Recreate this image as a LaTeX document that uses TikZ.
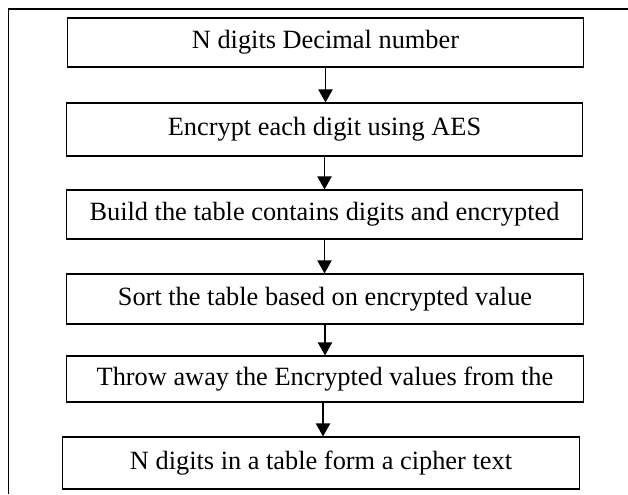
\documentclass[tikz,border=0pt]{standalone}
\usepackage{fontspec}
\setmainfont{Liberation Serif}
\usetikzlibrary{arrows.meta}

\begin{document}
\begin{tikzpicture}[
	x=0.02cm, y=-0.02cm,
	stepbox/.style={ rectangle, draw, line width=0.6pt, inner sep=0pt, minimum width=10.34cm, font=\fontsize{15}{18}\selectfont },
	flow/.style={ line width=1.1pt, -{Triangle[length=0.26cm,width=0.28cm]} }
]
\useasboundingbox (0,0) rectangle (628,494);

% outer frame (top and left edge only)
\coordinate (frametop) at (628,9);
\coordinate (framecorner) at (8.5,9);
\coordinate (framebottom) at (8.5,494);
\draw[line width=0.7pt] (frametop) -- (framecorner) -- (framebottom);

\node at (325.5,42.5) (decimal) [stepbox,minimum height=0.98cm] {N digits Decimal number};
\node at (324.5,129.5) (encrypt) [stepbox,minimum height=1.06cm] {Encrypt each digit using AES};
\node at (324.5,214.5) (build) [stepbox,minimum height=0.98cm] {Build the table contains digits and encrypted};
\node at (325,299) (sort) [stepbox,minimum height=1.0cm] {Sort the table based on encrypted value};
\node at (325,379) (throw) [stepbox,minimum height=0.92cm] {Throw away the Encrypted values from the};
\node at (321,463) (cipher) [stepbox,minimum height=1.04cm] {N digits in a table form a cipher text};

\foreach \p/\q in {decimal/encrypt,encrypt/build,build/sort,sort/throw}
	\draw[flow] (\p) -- (\p |- \q.north);
\draw[flow] ([xshift=-0.04cm]throw.south) -- ([xshift=-0.04cm]throw.south |- cipher.north);

\end{tikzpicture}
\end{document}
